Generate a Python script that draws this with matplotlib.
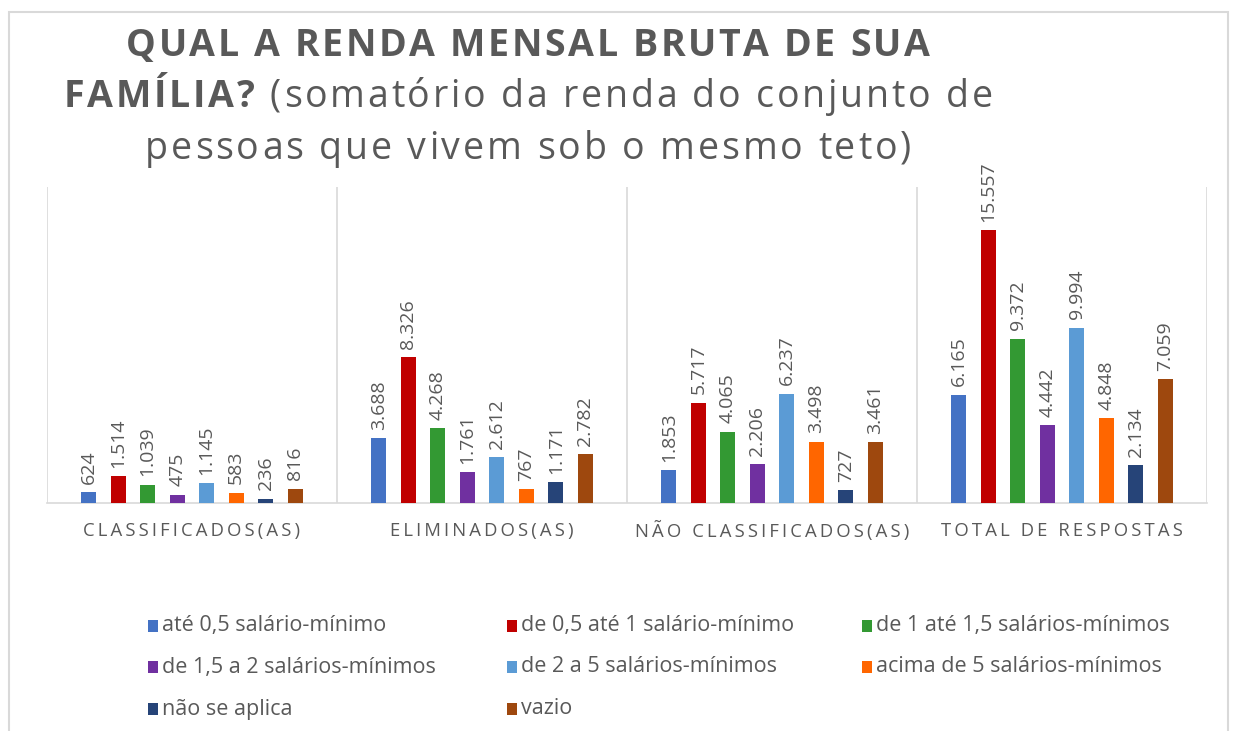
import matplotlib
matplotlib.use("Agg")
import matplotlib.pyplot as plt
import numpy as np
from matplotlib.patches import Rectangle
from matplotlib.font_manager import FontProperties, findfont, get_font

categories = ["CLASSIFICADOS(AS)", "ELIMINADOS(AS)", "NÃO CLASSIFICADOS(AS)", "TOTAL DE RESPOSTAS"]
series = [
    "até 0,5 salário-mínimo",
    "de 0,5 até 1 salário-mínimo",
    "de 1 até 1,5 salários-mínimos",
    "de 1,5 a 2 salários-mínimos",
    "de 2 a 5 salários-mínimos",
    "acima de 5 salários-mínimos",
    "não se aplica",
    "vazio",
]
ate_05 = [624, 3688, 1853, 6165]
de_05_1 = [1514, 8326, 5717, 15557]
de_1_15 = [1039, 4268, 4065, 9372]
de_15_2 = [475, 1761, 2206, 4442]
de_2_5 = [1145, 2612, 6237, 9994]
acima_5 = [583, 767, 3498, 4848]
nao_aplica = [236, 1171, 727, 2134]
vazio = [816, 2782, 3461, 7059]
values = [ate_05, de_05_1, de_1_15, de_15_2, de_2_5, acima_5, nao_aplica, vazio]
colors = ["#4472C4", "#C00000", "#339933", "#7030A0", "#5B9BD5", "#FF6600", "#264478", "#9E480E"]

TXT = "#595959"
GRID = "#D9D9D9"
FONT = "Open Sans"
W, H = 1233, 731
DPI = 100


def advances(s, size, weight):
    font = get_font(findfont(FontProperties(family=FONT, weight=weight)))
    font.set_size(size, DPI)
    return [font.load_char(ord(ch)).linearHoriAdvance / 65536 for ch in s]


def tracked(fig, cx, cy, parts, size, track):
    """Centred line of text with extra letter spacing; parts = [(text, weight)]."""
    chars = []
    for s, wgt in parts:
        for ch, a in zip(s, advances(s, size, wgt)):
            chars.append((ch, a, wgt))
    total = sum(a for _, a, _ in chars) + track * (len(chars) - 1)
    xpos = cx - total / 2
    for ch, a, wgt in chars:
        if ch != " ":
            fig.text(xpos / W, 1 - cy / H, ch, ha="left", va="center", fontsize=size,
                     fontweight=wgt, color=TXT, family=FONT)
        xpos += a + track


fig = plt.figure(figsize=(W / DPI, H / DPI), dpi=DPI)
ax = fig.add_axes([0.038, 0.312, 0.941, 0.432])

# outer chart border
fig.patches.append(Rectangle((9 / W, -0.01), 1219 / W, 1 - 12 / H + 0.01,
                             transform=fig.transFigure, fill=False,
                             edgecolor=GRID, linewidth=1.5))

n = len(values)
slot = 0.1017
width = 0.052
x = np.arange(len(categories)) + 0.5
for i, (vals, c) in enumerate(zip(values, colors)):
    pos = x + (i - (n - 1) / 2) * slot
    bars = ax.bar(pos, vals, width=width, color=c, zorder=3)
    for b, v in zip(bars, vals):
        lbl = f"{v:,}".replace(",", ".")
        ax.annotate(lbl, (b.get_x() + b.get_width() / 2, v), xytext=(0, 6),
                    textcoords="offset points", rotation=90, ha="center", va="bottom",
                    color=TXT, fontsize=14, family=FONT)

ax.set_xlim(0, len(categories))
ax.set_ylim(0, 18000)
ax.set_yticks([])
ax.set_xticks(np.arange(len(categories) + 1))
ax.set_xticklabels([])
ax.tick_params(axis="x", length=0)
ax.grid(axis="x", color=GRID, linewidth=1.2, zorder=0)
for s in ["top", "right", "left"]:
    ax.spines[s].set_visible(False)
ax.spines["bottom"].set_color(GRID)
ax.spines["bottom"].set_linewidth(1.2)

# category labels, letter-spaced with thin spaces
for xi, cat in zip(x, categories):
    ax.text(xi, -0.09, "\u2009".join(cat), transform=ax.get_xaxis_transform(),
            ha="center", va="center", color=TXT, fontsize=13.3,
            family=[FONT, "DejaVu Sans"])

# title (mixed bold / regular, spaced)
tcx = 528
tracked(fig, tcx, 46, [("QUAL A RENDA MENSAL BRUTA DE SUA", "bold")], 27, 2.6)
tracked(fig, tcx, 97, [("FAMÍLIA?", "bold"), (" (somatório da renda do conjunto de", "normal")], 27, 2.8)
tracked(fig, tcx, 149, [("pessoas que vivem sob o mesmo teto)", "normal")], 27, 2.9)

# legend, laid out row by row in three columns
col_x = [148, 507, 862]
row_y = [626, 667, 709]
for i, (lab, c) in enumerate(zip(series, colors)):
    px = col_x[i % 3]
    py = row_y[i // 3]
    fig.patches.append(Rectangle((px / W, 1 - (py + 6) / H), 10 / W, 12 / H,
                                 transform=fig.transFigure, facecolor=c, edgecolor="none"))
    fig.text((px + 14) / W, 1 - py / H, lab, ha="left", va="center", fontsize=15.5,
             color=TXT, family=FONT)

fig.savefig("out.png", dpi=DPI)
